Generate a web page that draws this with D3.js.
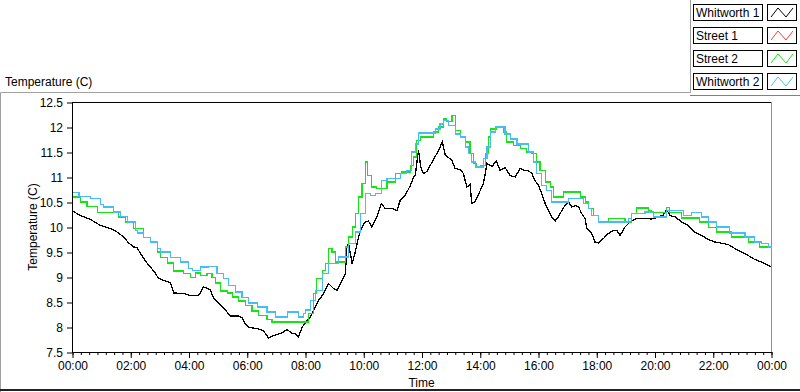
<html>
<head>
<script src="https://d3js.org/d3.v7.min.js"></script>
<style>
body{margin:0;background:#fff;}
svg{font-family:"Liberation Sans", Arial, sans-serif;font-size:12px;}
</style>
</head>
<body>
<svg width="800" height="392"></svg>
<script>
// hours since midnight, temperature (C)
var hourTicks = [0,2,4,6,8,10,12,14,16,18,20,22,24];
var hourLabels = ["00:00","02:00","04:00","06:00","08:00","10:00","12:00","14:00","16:00","18:00","20:00","22:00","00:00"];
var tempTicks = [7.5,8,8.5,9,9.5,10,10.5,11,11.5,12,12.5];
var seriesNames = ["Whitworth 1","Street 1","Street 2","Whitworth 2"];

var whitworth1 = [[0,10.33],[0.27,10.24],[0.62,10.16],[0.96,10.04],[1.30,9.98],[1.53,9.91],[1.76,9.81],[1.93,9.69],[2.10,9.61],[2.22,9.60],[2.33,9.48],[2.56,9.29],[2.79,9.13],[2.96,8.98],[3.25,8.92],[3.36,8.90],[3.48,8.69],[3.82,8.68],[4.05,8.64],[4.33,8.64],[4.50,8.81],[4.73,8.76],[4.85,8.58],[5.02,8.48],[5.25,8.35],[5.42,8.23],[5.71,8.23],[5.82,8.20],[5.93,8.08],[6.05,8.00],[6.34,7.98],[6.56,7.93],[6.73,7.79],[6.96,7.85],[7.19,7.89],[7.37,7.96],[7.54,7.88],[7.65,7.88],[7.76,7.81],[7.88,8.00],[8.05,8.14],[8.16,8.21],[8.34,8.41],[8.45,8.54],[8.62,8.68],[8.79,8.88],[8.96,8.78],[9.08,8.74],[9.25,8.94],[9.37,9.08],[9.42,9.61],[9.48,9.68],[9.60,9.28],[9.71,9.51],[9.82,9.81],[9.94,10.01],[10.05,10.11],[10.16,10.13],[10.28,10.01],[10.45,10.21],[10.60,10.48],[10.74,10.38],[10.97,10.38],[11.14,10.34],[11.25,10.54],[11.42,10.64],[11.60,10.84],[11.71,11.01],[11.77,11.04],[11.82,11.28],[11.88,11.54],[11.96,11.20],[12.05,11.08],[12.17,11.12],[12.28,11.24],[12.39,11.35],[12.51,11.48],[12.62,11.61],[12.70,11.71],[12.80,11.44],[12.91,11.40],[13.03,11.34],[13.14,11.18],[13.31,11.16],[13.42,11.08],[13.54,10.81],[13.65,10.86],[13.71,10.48],[13.83,10.52],[14.00,10.74],[14.11,10.88],[14.23,11.28],[14.40,11.22],[14.55,11.33],[14.68,11.14],[14.85,11.20],[15.03,11.04],[15.20,11.01],[15.37,11.18],[15.54,11.14],[15.65,11.14],[15.77,11.08],[15.88,10.94],[16.00,10.84],[16.11,10.68],[16.23,10.48],[16.34,10.34],[16.46,10.21],[16.57,10.13],[16.68,10.21],[16.80,10.34],[16.91,10.44],[17.03,10.51],[17.14,10.41],[17.26,10.44],[17.37,10.42],[17.48,10.28],[17.60,10.18],[17.66,9.98],[17.83,9.88],[17.94,9.71],[18.05,9.69],[18.23,9.78],[18.40,9.88],[18.57,9.94],[18.69,9.94],[18.80,9.84],[18.97,10.01],[19.14,10.11],[19.37,10.18],[19.66,10.18],[19.89,10.17],[20.11,10.21],[20.28,10.25],[20.40,10.36],[20.51,10.24],[20.69,10.21],[20.92,10.11],[21.14,10.04],[21.37,9.91],[21.60,9.84],[21.83,9.76],[22.06,9.71],[22.34,9.68],[22.51,9.66],[22.74,9.58],[22.97,9.51],[23.20,9.44],[23.43,9.36],[23.66,9.31],[23.89,9.24],[24,9.22]];

var street1 = [];

var street2 = [[0,10.61],[0.27,10.51],[0.50,10.42],[0.85,10.30],[1.59,10.21],[1.82,10.11],[2.10,9.98],[2.45,9.80],[2.68,9.71],[2.91,9.51],[3.02,9.40],[3.25,9.29],[3.48,9.13],[3.82,9.08],[4.05,9.00],[4.22,9.09],[4.39,9.04],[4.62,9.08],[4.79,9.00],[4.91,8.89],[5.08,8.73],[5.31,8.69],[5.48,8.61],[5.71,8.53],[5.93,8.44],[6.16,8.33],[6.39,8.24],[6.68,8.16],[6.85,8.11],[7.93,8.11],[8.11,8.28],[8.28,8.68],[8.39,8.98],[8.57,9.14],[8.68,9.28],[8.79,9.58],[8.91,9.51],[9.02,9.31],[9.37,9.61],[9.48,9.81],[9.60,10.01],[9.71,10.28],[9.82,10.61],[9.94,10.88],[10.05,11.31],[10.14,11.04],[10.26,10.81],[10.45,10.78],[10.80,10.91],[11.08,11.08],[11.31,11.11],[11.60,11.24],[11.71,11.41],[11.82,11.74],[11.94,11.81],[12.39,11.91],[12.57,12.01],[12.74,12.17],[12.85,12.12],[13.03,12.24],[13.14,11.94],[13.31,11.81],[13.48,11.71],[13.65,11.48],[13.77,11.28],[13.88,11.21],[14.00,11.24],[14.17,11.48],[14.28,11.81],[14.34,11.97],[14.57,12.02],[14.80,11.91],[14.91,11.71],[15.14,11.64],[15.37,11.58],[15.60,11.51],[15.77,11.48],[15.94,11.31],[16.05,11.14],[16.23,10.91],[16.40,10.81],[16.51,10.61],[16.85,10.71],[17.43,10.61],[17.60,10.51],[17.71,10.38],[17.88,10.24],[18.05,10.11],[18.40,10.18],[18.97,10.11],[19.20,10.28],[19.37,10.39],[19.77,10.33],[19.89,10.30],[20.40,10.40],[20.51,10.30],[20.92,10.19],[21.54,10.11],[21.83,10.00],[22.12,9.91],[22.63,9.81],[23.20,9.71],[23.60,9.61],[24,9.58]];

var whitworth2 = [[0,10.70],[0.22,10.62],[0.62,10.58],[0.96,10.46],[1.06,10.41],[1.42,10.31],[1.65,10.22],[1.88,10.11],[2.16,9.94],[2.22,9.89],[2.45,9.80],[2.68,9.71],[2.91,9.58],[3.02,9.51],[3.36,9.40],[3.70,9.31],[3.99,9.18],[4.11,9.14],[4.39,9.21],[4.68,9.22],[4.96,9.08],[5.19,8.98],[5.36,8.84],[5.59,8.71],[5.82,8.60],[6.05,8.49],[6.34,8.41],[6.68,8.31],[6.96,8.21],[7.37,8.31],[7.76,8.21],[7.93,8.28],[7.99,8.35],[8.16,8.54],[8.34,8.74],[8.57,9.08],[8.79,9.28],[9.14,9.41],[9.48,9.68],[9.71,9.91],[9.88,10.28],[10.05,10.68],[10.22,10.64],[10.39,10.68],[10.62,10.94],[10.80,10.98],[11.25,11.08],[11.48,11.14],[11.65,11.51],[11.77,11.67],[11.88,11.89],[12.45,11.97],[12.62,12.07],[12.74,12.14],[12.91,12.04],[13.14,11.87],[13.31,11.81],[13.48,11.61],[13.60,11.48],[13.71,11.31],[13.83,11.21],[14.11,11.38],[14.23,11.61],[14.34,11.91],[14.51,12.01],[14.85,11.87],[15.03,11.77],[15.26,11.67],[15.65,11.51],[15.83,11.31],[15.94,11.08],[16.11,10.84],[16.28,10.74],[16.46,10.51],[17.03,10.58],[17.54,10.48],[17.71,10.38],[17.83,10.24],[18.05,10.11],[19.08,10.18],[19.20,10.28],[19.66,10.31],[19.95,10.21],[20.40,10.34],[20.97,10.24],[21.26,10.30],[21.60,10.21],[21.83,10.11],[22.12,10.01],[22.57,9.89],[23.09,9.81],[23.43,9.71],[23.66,9.68],[23.89,9.61],[24,9.57]];

var seriesData = [whitworth1, street1, street2, whitworth2];
var seriesColors = ["#000000","#ff3c3c","#14e614","#46bef5"];

var svg = d3.select("svg");
var plotLeft = 72, plotRight = 771, plotTop = 102, plotBottom = 352;

var x = d3.scaleLinear().domain([0,24]).range([plotLeft+0.5, plotRight+0.5]);
var y = d3.scaleLinear().domain([7.5,12.5]).range([plotBottom+0.5, plotTop+0.5]);

// panel frame
svg.append("path").attr("d","M0.5,392V92.5H690.5V0").attr("fill","none").attr("stroke","#a0a0a0");
svg.append("line").attr("x1",690).attr("x2",800).attr("y1",95.5).attr("y2",95.5).attr("stroke","#808080");
svg.append("line").attr("x1",0).attr("x2",800).attr("y1",390).attr("y2",390).attr("stroke","#222").attr("stroke-width",2);

svg.append("text").attr("x",5).attr("y",86).text("Temperature (C)");

// plot box
svg.append("line").attr("x1",plotLeft).attr("x2",plotRight+1).attr("y1",plotTop+0.5).attr("y2",plotTop+0.5).attr("stroke","#000");
svg.append("line").attr("x1",plotRight+0.5).attr("x2",plotRight+0.5).attr("y1",plotTop).attr("y2",plotBottom+1).attr("stroke","#909090");

svg.append("clipPath").attr("id","clip").append("rect")
	.attr("x",plotLeft).attr("y",plotTop).attr("width",plotRight-plotLeft+1).attr("height",plotBottom-plotTop+1);

var lineLinear = d3.line().x(function(d){ return x(d[0]); }).y(function(d){ return y(d[1]); });
var lineStep = d3.line().x(function(d){ return x(d[0]); }).y(function(d){ return y(d[1]); }).curve(d3.curveStepAfter);

var plots = svg.append("g").attr("clip-path","url(#clip)");
seriesData.forEach(function(s,i){
	if(s.length == 0) return;
	plots.append("path")
		.datum(s)
		.attr("d", i == 0 ? lineLinear : lineStep)
		.attr("fill","none")
		.attr("stroke", seriesColors[i])
		.attr("stroke-width", i == 0 ? 1.3 : 1.2)
		.attr("shape-rendering", "crispEdges");
});

// axes
var yAxis = svg.append("g").attr("transform","translate("+plotLeft+",0)")
	.call(d3.axisLeft(y).tickValues(tempTicks).tickSize(5).tickSizeOuter(0).tickPadding(4).tickFormat(d3.format("")));
var xMinor = svg.append("g").attr("transform","translate(0,"+plotBottom+")")
	.call(d3.axisBottom(x).tickValues(d3.range(0,24.001,2/7)).tickSize(3).tickSizeOuter(0).tickFormat(""));
var xAxis = svg.append("g").attr("transform","translate(0,"+plotBottom+")")
	.call(d3.axisBottom(x).tickValues(hourTicks).tickSize(6).tickSizeOuter(0).tickPadding(3)
		.tickFormat(function(d,i){ return hourLabels[i]; }));
svg.selectAll(".tick text").attr("font-size",12).attr("font-family",null).attr("fill","#000");
svg.selectAll(".domain").attr("stroke","#000");

svg.append("text").attr("transform","translate(37,"+((plotTop+plotBottom)/2)+") rotate(-90)")
	.attr("text-anchor","middle").text("Temperature (C)");
svg.append("text").attr("x",(plotLeft+plotRight)/2).attr("y",387).attr("text-anchor","middle").text("Time");

// legend
var legend = svg.append("g").selectAll("g").data(seriesNames).enter().append("g")
	.attr("transform", function(d,i){ return "translate(693,"+(4+i*23)+")"; });
legend.append("rect").attr("x",0.5).attr("y",0.5).attr("width",69).attr("height",16)
	.attr("fill","#fff").attr("stroke","#000");
legend.append("text").attr("x",3).attr("y",13).text(function(d){ return d; });
legend.append("rect").attr("x",74.5).attr("y",0.5).attr("width",29).attr("height",16)
	.attr("fill","#fff").attr("stroke","#000");
legend.append("path")
	.attr("d","M78,13L85,4L93,13L100,4")
	.attr("fill","none")
	.attr("stroke", function(d,i){ return seriesColors[i]; });
</script>
</body>
</html>
